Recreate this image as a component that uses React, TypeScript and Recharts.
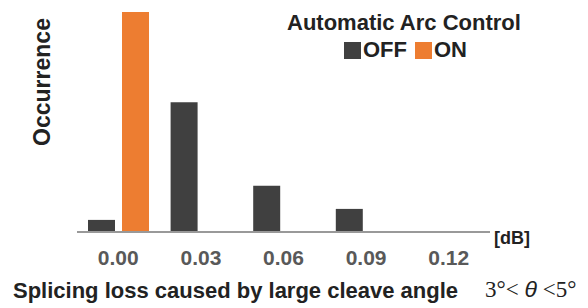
import { BarChart, Bar, XAxis, YAxis } from "recharts";

const categories = ["0.00", "0.03", "0.06", "0.09", "0.12"];
const offValues = [5.5, 59, 21, 10.5, 0];
const onValues = [100, 0, 0, 0, 0];

const data = categories.map((name, i) => ({
  name,
  OFF: offValues[i],
  ON: onValues[i],
}));

const OFF_COLOR = "#404040";
const ON_COLOR = "#ED7D31";
const FONT = "'Liberation Sans', Arial, sans-serif";

export default function App() {
  return (
    <div
      style={{
        position: "absolute",
        left: 0,
        top: 0,
        width: 588,
        height: 308,
        background: "white",
        fontFamily: FONT,
        overflow: "hidden",
      }}
    >
      <BarChart
        width={588}
        height={308}
        data={data}
        margin={{ top: 12, right: 98, bottom: 46, left: 77 }}
        barSize={27}
        barGap={7}
      >
        <YAxis hide domain={[0, 100]} />
        <XAxis
          dataKey="name"
          height={30}
          axisLine={{ stroke: "#999", strokeWidth: 2 }}
          tickLine={false}
          tickMargin={12}
          tick={{ fill: "#595959", fontSize: 21, fontWeight: 700, fontFamily: FONT }}
        />
        <Bar dataKey="OFF" fill={OFF_COLOR} isAnimationActive={false} />
        <Bar dataKey="ON" fill={ON_COLOR} isAnimationActive={false} />
      </BarChart>

      {/* y axis title */}
      <div
        style={{
          position: "absolute",
          left: 42,
          top: 82,
          transform: "translate(-50%, -50%) rotate(-90deg)",
          fontSize: 23,
          fontWeight: 700,
          color: "#222",
          whiteSpace: "nowrap",
        }}
      >
        Occurrence
      </div>

      {/* legend */}
      <div
        style={{
          position: "absolute",
          left: 287,
          top: 10,
          fontSize: 22,
          fontWeight: 700,
          color: "#222",
          whiteSpace: "nowrap",
        }}
      >
        Automatic Arc Control
      </div>
      <div
        style={{
          position: "absolute",
          left: 344,
          top: 37,
          fontSize: 22,
          fontWeight: 700,
          color: "#222",
          whiteSpace: "nowrap",
          display: "flex",
          alignItems: "center",
        }}
      >
        <span style={{ display: "inline-block", width: 17, height: 17, background: OFF_COLOR, marginRight: 2 }} />
        <span>OFF</span>
        <span style={{ display: "inline-block", width: 17, height: 17, background: ON_COLOR, marginLeft: 8, marginRight: 2 }} />
        <span>ON</span>
      </div>

      {/* unit */}
      <div
        style={{
          position: "absolute",
          left: 494,
          top: 228,
          fontSize: 18,
          fontWeight: 700,
          color: "#222",
        }}
      >
        [dB]
      </div>

      {/* x axis title */}
      <div
        style={{
          position: "absolute",
          left: 13,
          top: 278,
          fontSize: 22,
          fontWeight: 700,
          color: "#222",
          whiteSpace: "nowrap",
        }}
      >
        Splicing loss caused by large cleave angle
      </div>
      <div
        style={{
          position: "absolute",
          left: 485,
          top: 276,
          fontSize: 23,
          color: "#222",
          whiteSpace: "nowrap",
          fontFamily: "'Liberation Serif', serif",
        }}
      >
        3°&lt; <span style={{ fontStyle: "italic", fontFamily: FONT }}>θ</span> &lt;5°
      </div>
    </div>
  );
}
